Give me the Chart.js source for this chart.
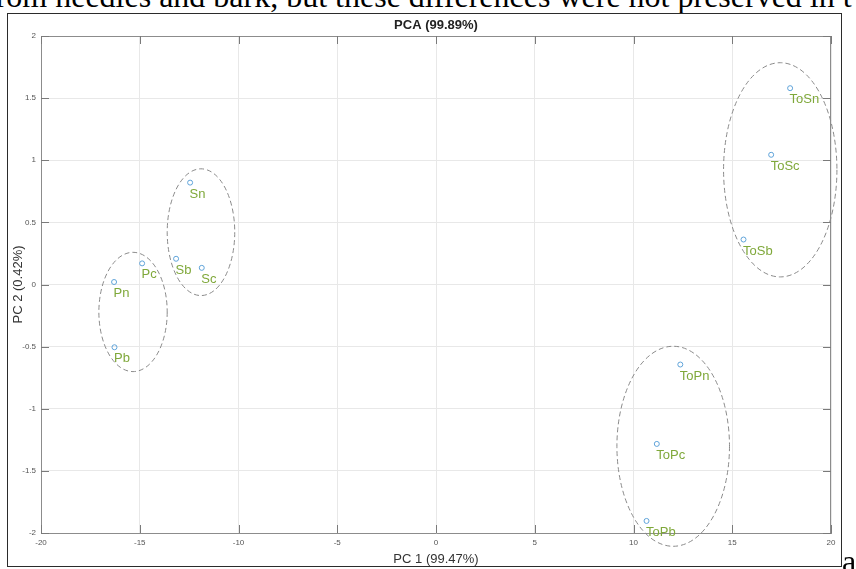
<!DOCTYPE html>
<html><head><meta charset="utf-8">
<script src="https://cdn.jsdelivr.net/npm/chart.js@4"></script>
<style>
html,body{margin:0;padding:0;background:#fff;width:856px;height:569px;overflow:hidden;position:relative;}
#wrap{position:absolute;left:0;top:0;width:856px;height:569px;}
#frame{position:absolute;left:7px;top:13px;width:835px;height:554px;border:1.5px solid #2b2b2b;box-sizing:border-box;pointer-events:none;}
.serif{position:absolute;font-family:"Liberation Serif","Times New Roman",serif;font-size:32px;line-height:1;white-space:nowrap;color:#000;}
#topline{left:-15px;top:-20px;}
#letter{left:842px;top:545px;}
</style></head><body>
<div class="serif" id="topline">from needles and bark, but these differences were not preserved in t</div>
<div id="wrap"><canvas id="c" width="856" height="569"></canvas></div>
<div id="frame"></div>
<div class="serif" id="letter">a</div>
<script>
const sampleNames = ['Pn','Pc','Pb','Sn','Sb','Sc','ToSn','ToSc','ToSb','ToPn','ToPc','ToPb'];
const pc1 = [-16.3,-14.88,-16.28,-12.45,-13.16,-11.86,17.93,16.97,15.57,12.37,11.18,10.66];
const pc2 = [0.02,0.17,-0.505,0.82,0.207,0.134,1.58,1.044,0.362,-0.644,-1.283,-1.903];
const groupCx = [-15.34,-11.9,17.43,12.01];
const groupCy = [-0.221,0.421,0.923,-1.302];
const groupRx = [1.73,1.71,2.87,2.85];
const groupRy = [0.48,0.51,0.862,0.805];
const xTickValues = [-20,-15,-10,-5,0,5,10,15,20];
const xTickLabels = ['-20','-15','-10','-5','0','5','10','15','20'];
const yTickValues = [-2,-1.5,-1,-0.5,0,0.5,1,1.5,2];
const yTickLabels = ['-2','-1.5','-1','-0.5','0','0.5','1','1.5','2'];

function lab(values, labels){
  return function(v){
    const i = values.findIndex(t => Math.abs(t - v) < 1e-9);
    return i >= 0 ? labels[i] : '';
  };
}

const points = pc1.map((v,i)=>({x:v, y:pc2[i]}));

const decor = {
  id:'decor',
  afterDatasetsDraw(chart){
    const {ctx, chartArea:a, scales:{x, y}} = chart;
    ctx.save();
    ctx.strokeStyle = '#8c8c8c'; ctx.lineWidth = 1;
    ctx.beginPath();
    ctx.moveTo(a.left, a.top + 0.5); ctx.lineTo(a.right, a.top + 0.5);
    ctx.moveTo(a.right - 0.5, a.top); ctx.lineTo(a.right - 0.5, a.bottom);
    ctx.stroke();
    const tl = 8;
    ctx.strokeStyle = '#7a7a7a';
    ctx.beginPath();
    xTickValues.forEach(v => {
      const px = Math.round(x.getPixelForValue(v)) + 0.5;
      ctx.moveTo(px, a.bottom); ctx.lineTo(px, a.bottom - tl);
      ctx.moveTo(px, a.top); ctx.lineTo(px, a.top + tl);
    });
    yTickValues.forEach(v => {
      const py = Math.round(y.getPixelForValue(v)) + 0.5;
      ctx.moveTo(a.left, py); ctx.lineTo(a.left + tl, py);
      ctx.moveTo(a.right, py); ctx.lineTo(a.right - tl, py);
    });
    ctx.stroke();
    ctx.setLineDash([5,3]);
    ctx.strokeStyle = '#8a8a8a'; ctx.lineWidth = 1;
    groupCx.forEach((cx, i) => {
      const px = x.getPixelForValue(cx), py = y.getPixelForValue(groupCy[i]);
      const rx = Math.abs(x.getPixelForValue(cx + groupRx[i]) - px);
      const ry = Math.abs(y.getPixelForValue(groupCy[i] + groupRy[i]) - py);
      ctx.beginPath();
      ctx.ellipse(px, py, rx, ry, 0, 0, Math.PI * 2);
      ctx.stroke();
    });
    ctx.setLineDash([]);
    ctx.fillStyle = '#7fa83a';
    ctx.font = '13px "Liberation Sans", Arial, sans-serif';
    ctx.textAlign = 'left'; ctx.textBaseline = 'alphabetic';
    sampleNames.forEach((n, i) => {
      const px = x.getPixelForValue(pc1[i]), py = y.getPixelForValue(pc2[i]);
      ctx.fillText(n, px - 0.5, py + 15);
    });
    ctx.restore();
  }
};

Chart.defaults.font.family = '"Liberation Sans", Arial, sans-serif';

new Chart(document.getElementById('c'), {
  type: 'scatter',
  data: { datasets: [{
    label: 'PCA',
    data: points,
    pointRadius: 2.5,
    pointBorderWidth: 1,
    pointBorderColor: '#5fa3d9',
    pointBackgroundColor: 'rgba(255,255,255,0)',
    showLine: false
  }]},
  options: {
    responsive: false,
    animation: false,
    layout: { padding: { left: 9, top: 14, right: 25, bottom: 0 } },
    plugins: {
      legend: { display: false },
      tooltip: { enabled: false },
      title: {
        display: true, text: 'PCA (99.89%)', fullSize: false,
        color: '#222', font: { size: 13, weight: 'bold' },
        padding: { top: 3.6, bottom: 2.8 }
      }
    },
    scales: {
      x: {
        type: 'linear', min: -20, max: 20,
        afterFit: s => { s.height = 36; },
        ticks: { stepSize: 5, color: '#555', font: { size: 8 }, padding: 5, maxRotation: 0, autoSkip: false,
                 callback: lab(xTickValues, xTickLabels) },
        grid: { color: '#e8e8e8', drawTicks: false },
        border: { display: true, color: '#8c8c8c', width: 1 },
        title: { display: true, text: 'PC 1 (99.47%)', color: '#333', font: { size: 13 }, padding: { top: 0, bottom: 2.2 } }
      },
      y: {
        type: 'linear', min: -2, max: 2,
        afterFit: s => { s.width = 32; },
        ticks: { stepSize: 0.5, color: '#555', font: { size: 8 }, padding: 5, autoSkip: false,
                 callback: lab(yTickValues, yTickLabels) },
        grid: { color: '#e8e8e8', drawTicks: false },
        border: { display: true, color: '#8c8c8c', width: 1 },
        title: { display: true, text: 'PC 2 (0.42%)', color: '#333', font: { size: 13 }, padding: { top: 2, bottom: 0 } }
      }
    }
  },
  plugins: [decor]
});
</script>
</body></html>
